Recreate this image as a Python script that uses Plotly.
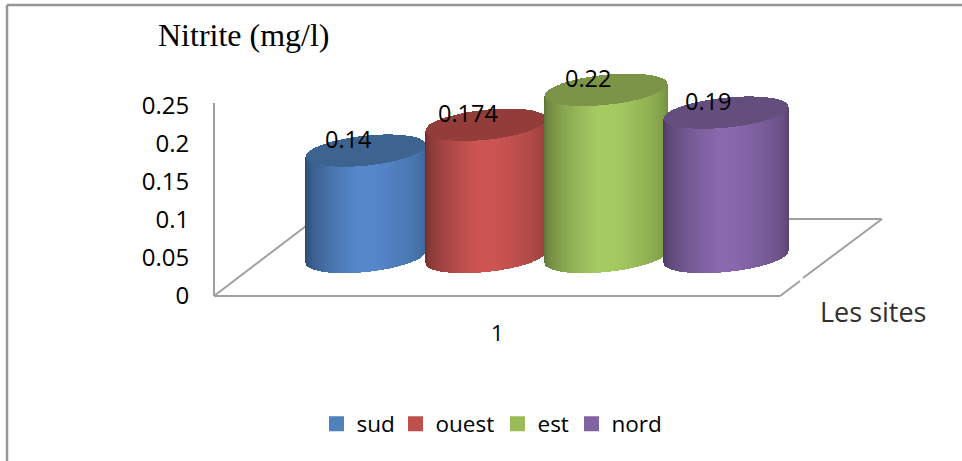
import numpy as np
import plotly.graph_objects as go

# ---- data ----
sites = ["sud", "ouest", "est", "nord"]
values = [0.14, 0.174, 0.22, 0.19]
labels = ["0.14", "0.174", "0.22", "0.19"]
y_ticks = [0, 0.05, 0.1, 0.15, 0.2, 0.25]
y_tick_text = ["0", "0.05", "0.1", "0.15", "0.2", "0.25"]
category_label = "1"
y_title = "Nitrite (mg/l)"
x_title = "Les sites"

# ---- styles ----
light = ["#5687CB", "#CC5553", "#A6CA62", "#8968AD"]
edge_left = ["#2C4A70", "#6E2E2C", "#5F7437", "#4B3B60"]
edge_right = ["#3D6798", "#963E3C", "#76913F", "#5B4775"]
cap = ["#3D6491", "#933D3B", "#7B9447", "#634E7E"]
swatch = ["#4F81BD", "#C0504D", "#9BBB59", "#8064A2"]
legend_left_px = [316.5, 395.5, 497.5, 571.5]
GREY = "#A0A0A0"
W, H = 962, 461
TEXT_FONT = "Open Sans"

# ---- projection used for the pseudo-3D cylinders ----
PX_PER_UNIT = 760.0   # pixels per mg/l
SLOT_PX = 120.0       # pixels between cylinders
X0_PX = 366.0         # centre of the first cylinder
Y0_PX = 257.0         # centre of the cylinders' base
TILT_B = 15.0 / PX_PER_UNIT
TILT_S = 6.0 / PX_PER_UNIT
N = 125


def hex2rgb(c):
    return np.array([int(c[i:i + 2], 16) for i in (1, 3, 5)], float)


def shade(u, left, mid, right):
    a, b, c = hex2rgb(left), hex2rgb(mid), hex2rgb(right)
    out = []
    for v in u:
        if v < -0.12:
            t = ((v + 1) / 0.88) ** 0.55
            col = a + (b - a) * t
        elif v > 0.12:
            t = ((1 - v) / 0.88) ** 0.55
            col = c + (b - c) * t
        else:
            col = b
        out.append("rgb(%d,%d,%d)" % tuple(col.round()))
    return out


fig = go.Figure()

for i, (name, val) in enumerate(zip(sites, values)):
    half = 0.495 + 0.007 * i
    u = np.linspace(-1, 1, N)
    xs = i + half * u
    w = 2 * half / (N - 1) * 1.35
    arc = TILT_B * np.sqrt(1 - u ** 2)
    lower = TILT_S * u - arc
    fig.add_trace(go.Bar(
        x=xs, y=val + TILT_S * u - lower,
        base=lower, width=w, xaxis="x", yaxis="y2",
        marker=dict(color=shade(u, edge_left[i], light[i], edge_right[i]), line_width=0),
        showlegend=False, hoverinfo="skip"))
    fig.add_trace(go.Bar(
        x=xs, y=2 * arc, base=val + lower, width=w, xaxis="x", yaxis="y2",
        marker=dict(color=cap[i], line_width=0),
        showlegend=False, hoverinfo="skip"))

legend_ids = ["legend", "legend2", "legend3", "legend4"]
for i, name in enumerate(sites):
    fig.add_trace(go.Scatter(
        x=[None], y=[None], name=name, mode="markers", xaxis="x", yaxis="y",
        legend=legend_ids[i],
        marker=dict(symbol="square", size=15, color=swatch[i])))


def line(x0, y0, x1, y1, width=2, color=GREY):
    return dict(type="line", xref="paper", yref="paper", layer="below",
                x0=x0 / W, x1=x1 / W, y0=1 - y0 / H, y1=1 - y1 / H,
                line=dict(color=color, width=width))


shapes = [
    line(7, 5, 962, 5, 2.5, "#969696"),
    line(7, 5, 7, 461, 2.5, "#969696"),
    line(214, 296, 780, 296),
    line(214, 296, 306, 226),
    line(780, 296, 800, 281),
    line(803, 278, 882, 219),
    line(788, 219, 882, 219),
]

annotations = []
for i, val in enumerate(values):
    annotations.append(dict(
        x=i, y=val, xref="x", yref="y2", text=labels[i], showarrow=False,
        xanchor="center", yanchor="middle",
        xshift=-18.5, yshift=12, font=dict(family=TEXT_FONT, size=23.5, color="#000")))
annotations.append(dict(
    x=497 / W, y=1 - 332 / H, xref="paper", yref="paper", text=category_label,
    xanchor="center", yanchor="middle",
    showarrow=False, font=dict(family=TEXT_FONT, size=22, color="#000")))
annotations.append(dict(
    x=872.5 / W, y=1 - 311 / H, xref="paper", yref="paper", text=x_title,
    xanchor="center", yanchor="middle",
    showarrow=False, font=dict(family=TEXT_FONT, size=27, color="#303030")))
annotations.append(dict(
    x=244 / W, y=1 - 35.5 / H, xref="paper", yref="paper", text=y_title,
    xanchor="center", yanchor="middle",
    showarrow=False, font=dict(family="Liberation Serif", size=32, color="#000")))

legend_layout = {
    legend_ids[i]: dict(orientation="h", x=legend_left_px[i] / W, xanchor="left",
                        y=1 - 424 / H, yanchor="middle", itemwidth=30,
                        font=dict(family=TEXT_FONT, size=22.5, color="#000"),
                        bgcolor="rgba(0,0,0,0)", itemclick=False, itemdoubleclick=False)
    for i in range(len(sites))
}

fig.update_layout(
    width=W, height=H, autosize=False,
    margin=dict(l=0, r=0, t=0, b=0, autoexpand=False),
    paper_bgcolor="white", plot_bgcolor="rgba(0,0,0,0)",
    barmode="overlay", bargap=0,
    shapes=shapes, annotations=annotations,
    xaxis=dict(domain=[0, 1], range=[-X0_PX / SLOT_PX, (W - X0_PX) / SLOT_PX],
               visible=False, fixedrange=True),
    yaxis=dict(domain=[1 - 296 / H, 1 - 103 / H],
               range=[0, (296 - 103) / PX_PER_UNIT], anchor="free", position=214 / W,
               tickvals=y_ticks, ticktext=y_tick_text, ticks="outside", ticklen=19,
               tickcolor="rgba(0,0,0,0)", showgrid=False, zeroline=False,
               showline=True, linecolor=GREY, linewidth=2,
               tickfont=dict(family=TEXT_FONT, size=24, color="#000"), fixedrange=True),
    yaxis2=dict(domain=[0, 1], anchor="x", visible=False,
                range=[-(H - Y0_PX) / PX_PER_UNIT, Y0_PX / PX_PER_UNIT], fixedrange=True),
    showlegend=True,
    **legend_layout,
)

fig.write_html("out.html", config={"displayModeBar": False},
               post_script="document.body.style.margin='0';")
